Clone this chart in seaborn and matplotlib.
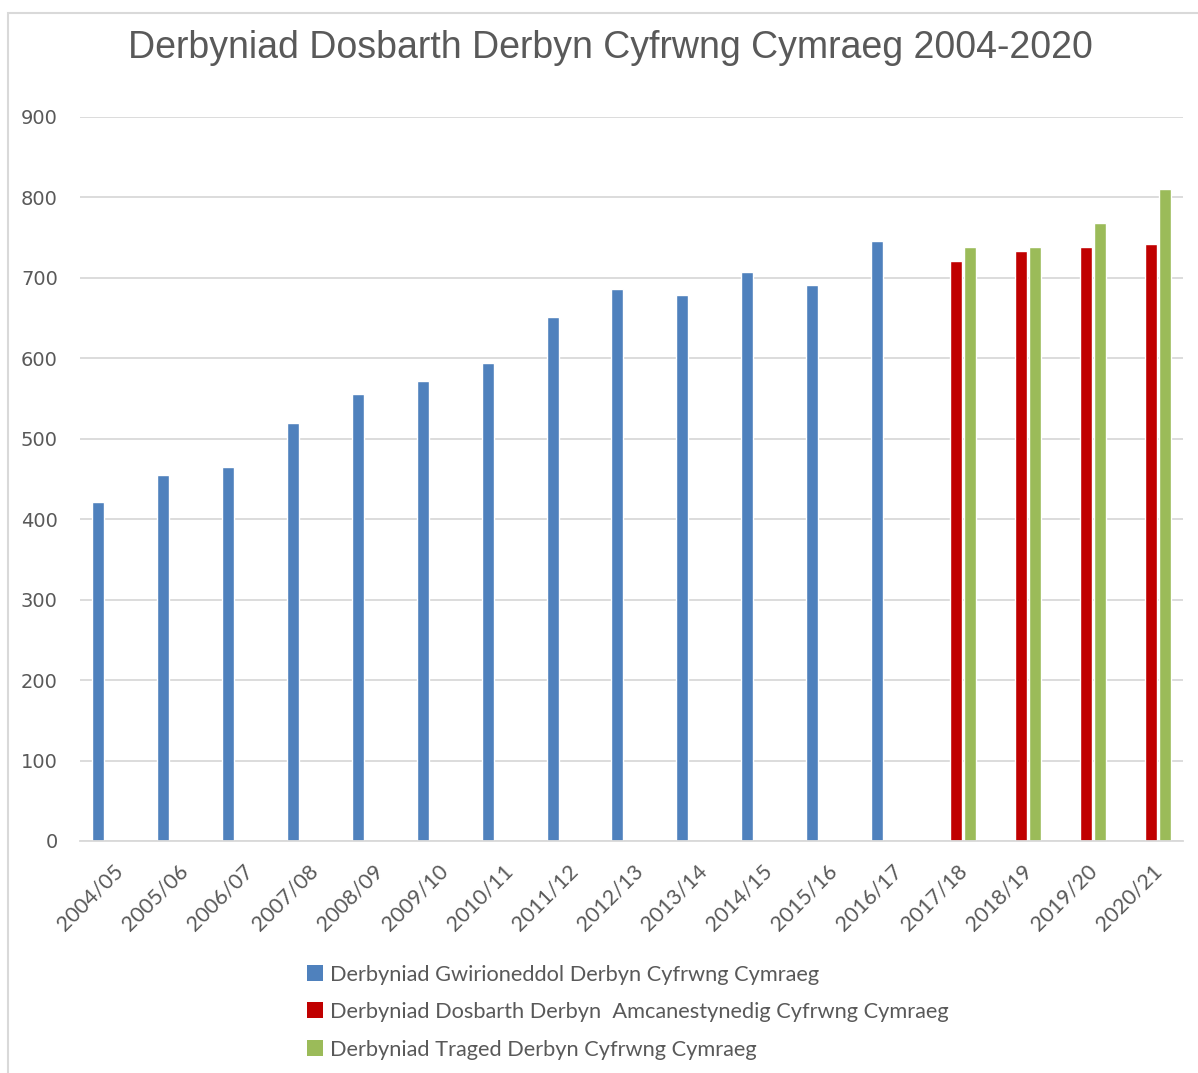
import matplotlib
matplotlib.use("Agg")
import matplotlib.pyplot as plt
import matplotlib.transforms as mtransforms
from matplotlib.patches import Rectangle, Patch
import numpy as np
import pandas as pd
import seaborn as sns

years = ["2004/05", "2005/06", "2006/07", "2007/08", "2008/09", "2009/10", "2010/11",
         "2011/12", "2012/13", "2013/14", "2014/15", "2015/16", "2016/17",
         "2017/18", "2018/19", "2019/20", "2020/21"]
actual = [421, 455, 465, 520, 556, 572, 594, 651, 686, 679, 707, 691, 746,
          None, None, None, None]
projected = [None] * 13 + [721, 733, 738, 742]
target = [None] * 13 + [738, 738, 768, 811]

series_names = ["Derbyniad Gwirioneddol Derbyn Cyfrwng Cymraeg",
                "Derbyniad Dosbarth Derbyn  Amcanestynedig Cyfrwng Cymraeg",
                "Derbyniad Traged Derbyn Cyfrwng Cymraeg"]
colors = ["#4F81BD", "#C00000", "#9BBB59"]
title = "Derbyniad Dosbarth Derbyn Cyfrwng Cymraeg 2004-2020"
yticks = [0, 100, 200, 300, 400, 500, 600, 700, 800, 900]

rows = []
for name, vals in zip(series_names, [actual, projected, target]):
    for y, v in zip(years, vals):
        if v is not None:
            rows.append({"year": y, "series": name, "value": v})
df = pd.DataFrame(rows)

sns.set_theme(style="white")
plt.rcParams["font.family"] = ["Liberation Sans", "DejaVu Sans"]

W, H = 1198, 1073
fig = plt.figure(figsize=(W / 100, H / 100), dpi=100)
fig.patch.set_facecolor("white")
ax = fig.add_axes([80 / W, 1 - 841 / H, (1183 - 80) / W, (841 - 117) / H])

sns.barplot(data=df, x="year", y="value", hue="series", order=years,
            hue_order=series_names, palette=colors, width=0.65, gap=0.14,
            dodge=True, errorbar=None, ax=ax, legend=False, saturation=1)

ax.set_ylim(0, 900)
ax.set_xlim(-0.5, len(years) - 0.5)
ax.set_yticks(yticks)
ax.set_yticklabels([str(t) for t in yticks], fontsize=14, color="#595959",
                   family=["DejaVu Sans"])
ax.yaxis.grid(True, color="#D9D9D9", linewidth=1.3)
ax.set_axisbelow(True)
for s in ["top", "right", "left"]:
    ax.spines[s].set_visible(False)
ax.spines["bottom"].set_color("#D9D9D9")
ax.spines["bottom"].set_linewidth(1.3)
ax.tick_params(axis="both", length=0)
ax.tick_params(axis="y", pad=16)
ax.set_xlabel("")
ax.set_ylabel("")

ax.set_xticks(range(len(years)))
ax.set_xticklabels(years, rotation=45, ha="right", va="center",
                   rotation_mode="anchor", fontsize=15.5, color="#595959",
                   family=["Lato", "DejaVu Sans"])
offset = mtransforms.ScaledTranslation(8 / 100, -22 / 100, fig.dpi_scale_trans)
for lbl in ax.get_xticklabels():
    lbl.set_transform(lbl.get_transform() + offset)

fig.text(610 / W, 1 - 48 / H, title, ha="center", va="center", fontsize=27,
         color="#595959")

handles = [Patch(facecolor=c, edgecolor="none") for c in colors]
leg = fig.legend(handles, series_names, loc="upper left",
                 bbox_to_anchor=(287 / W, 1 - 945 / H), frameon=False,
                 prop={"family": ["Lato", "DejaVu Sans"], "size": 15.7},
                 handlelength=0.75, handleheight=0.75, handletextpad=0.3,
                 labelspacing=0.8, labelcolor="#595959")

fig.patches.append(Rectangle((8 / W, -0.1), 1.2, (1 - 13 / H) + 0.1,
                             transform=fig.transFigure, fill=False,
                             edgecolor="#D9D9D9", linewidth=1.5, zorder=-1))

fig.savefig("out.png", dpi=100)
